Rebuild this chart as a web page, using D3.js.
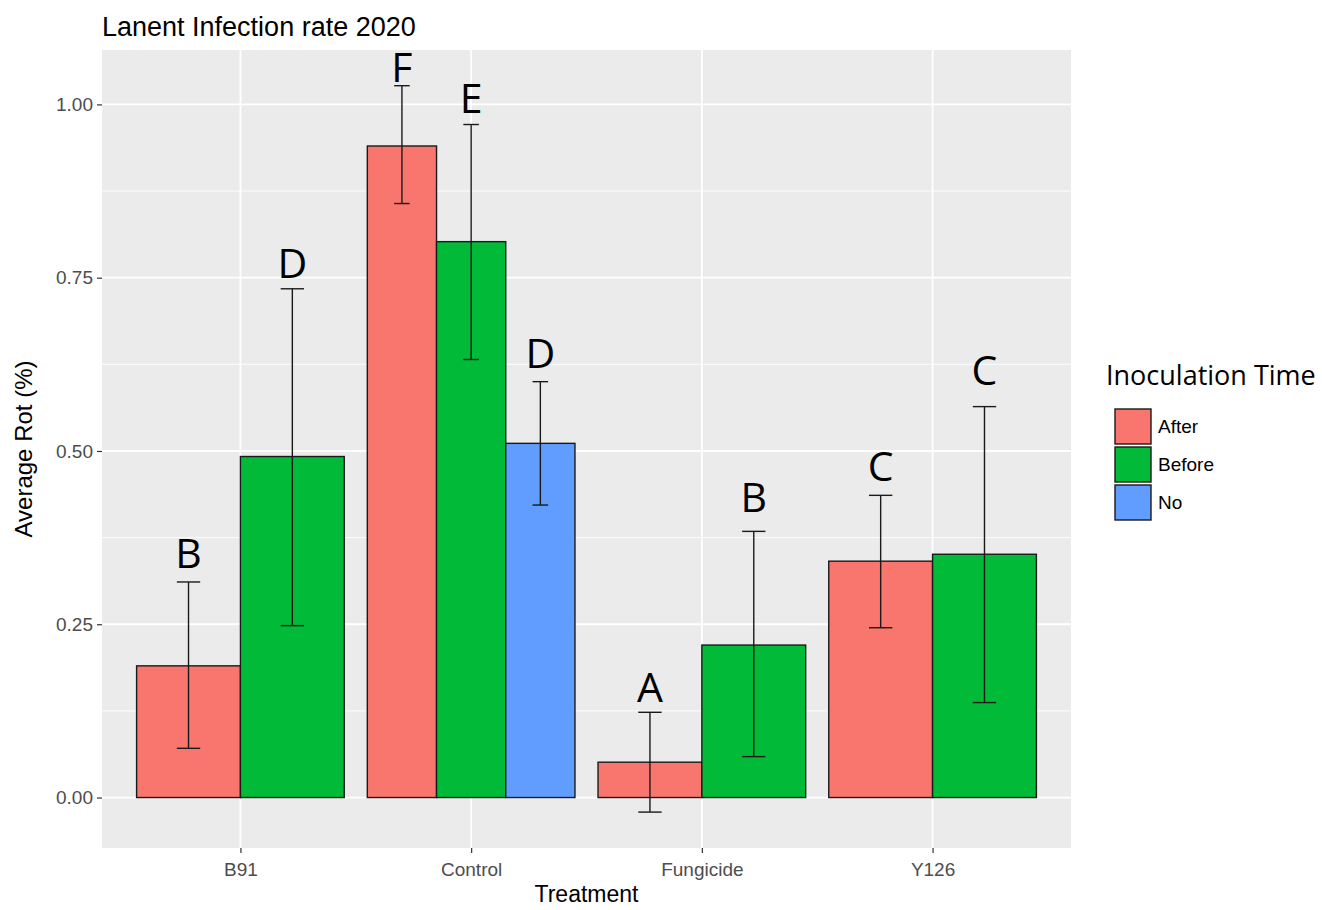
<!DOCTYPE html>
<html>
<head>
<meta charset="utf-8">
<script src="https://cdn.jsdelivr.net/npm/d3@7"></script>
<style>
  body { margin: 0; background: #fff; }
  svg { display: block; }
</style>
</head>
<body>
<svg id="chart" width="1322" height="910"></svg>
<script>
// data
const treatments = ["B91", "Control", "Fungicide", "Y126"];
const times = ["After", "Before", "No"];
const colors = ["#F8766D", "#00BA38", "#619CFF"];

// one row per bar: treatment, time, mean, lower, upper, letter, letter baseline
const barTreatment = ["B91", "B91", "Control", "Control", "Control", "Fungicide", "Fungicide", "Y126", "Y126"];
const barTime = ["After", "Before", "After", "Before", "No", "After", "Before", "After", "Before"];
const barMean = [0.190, 0.492, 0.940, 0.802, 0.511, 0.051, 0.220, 0.341, 0.351];
const barLower = [0.071, 0.248, 0.857, 0.632, 0.422, -0.021, 0.059, 0.245, 0.137];
const barUpper = [0.311, 0.734, 1.027, 0.971, 0.600, 0.123, 0.384, 0.436, 0.564];
const barLetter = ["B", "D", "F", "E", "D", "A", "B", "C", "C"];
const letterAt = [0.331, 0.749, 1.032, 0.988, 0.619, 0.138, 0.412, 0.456, 0.595];

const yTicks = [0, 0.25, 0.5, 0.75, 1.0];
const yMinor = [0.125, 0.375, 0.625, 0.875];

const rows = barMean.map((m, i) => ({
  treatment: barTreatment[i], time: barTime[i], mean: m,
  lo: barLower[i], hi: barUpper[i], letter: barLetter[i], ly: letterAt[i]
}));

const panel = { left: 102, right: 1071, top: 50, bottom: 848 };
const svg = d3.select("#chart");
const textFont = "'Liberation Sans', Arial, sans-serif";

const x = d3.scalePoint().domain(treatments)
  .range([panel.left, panel.right]).padding(0.6);
const y = d3.scaleLinear()
  .domain([-0.0728, 1.0785])
  .range([panel.bottom, panel.top]);
const color = d3.scaleOrdinal().domain(times).range(colors);

// panel background + grid
svg.append("rect")
  .attr("x", panel.left).attr("y", panel.top)
  .attr("width", panel.right - panel.left).attr("height", panel.bottom - panel.top)
  .attr("fill", "#EBEBEB");

svg.append("g").selectAll("line").data(yMinor).join("line")
  .attr("x1", panel.left).attr("x2", panel.right)
  .attr("y1", d => y(d)).attr("y2", d => y(d))
  .attr("stroke", "#fff").attr("stroke-width", 0.9);
svg.append("g").selectAll("line").data(yTicks).join("line")
  .attr("x1", panel.left).attr("x2", panel.right)
  .attr("y1", d => y(d)).attr("y2", d => y(d))
  .attr("stroke", "#fff").attr("stroke-width", 1.8);
svg.append("g").selectAll("line").data(treatments).join("line")
  .attr("x1", d => x(d)).attr("x2", d => x(d))
  .attr("y1", panel.top).attr("y2", panel.bottom)
  .attr("stroke", "#fff").attr("stroke-width", 1.8);

// dodged positions: each treatment splits 0.9 of a step between its own bars
const groupWidth = x.step() * 0.9;
const inner = {};
treatments.forEach(t => {
  const sub = rows.filter(r => r.treatment === t).map(r => r.time);
  inner[t] = d3.scaleBand().domain(sub)
    .range([x(t) - groupWidth / 2, x(t) + groupWidth / 2]);
});
const cx = d => inner[d.treatment](d.time) + inner[d.treatment].bandwidth() / 2;

svg.append("g").selectAll("rect").data(rows).join("rect")
  .attr("x", d => inner[d.treatment](d.time))
  .attr("width", d => inner[d.treatment].bandwidth())
  .attr("y", d => y(d.mean))
  .attr("height", d => y(0) - y(d.mean))
  .attr("fill", d => color(d.time))
  .attr("stroke", "#1a1a1a").attr("stroke-width", 1.4);

// error bars
const eb = svg.append("g").attr("stroke", "#1a1a1a").attr("stroke-width", 1.4);
rows.forEach(d => {
  const w = inner[d.treatment].bandwidth() * 0.225;
  const c = cx(d);
  eb.append("line").attr("x1", c).attr("x2", c).attr("y1", y(d.hi)).attr("y2", y(d.lo));
  eb.append("line").attr("x1", c - w / 2).attr("x2", c + w / 2).attr("y1", y(d.hi)).attr("y2", y(d.hi));
  eb.append("line").attr("x1", c - w / 2).attr("x2", c + w / 2).attr("y1", y(d.lo)).attr("y2", y(d.lo));
});

// significance letters
svg.append("g").selectAll("text").data(rows).join("text")
  .attr("x", d => cx(d)).attr("y", d => y(d.ly))
  .attr("text-anchor", "middle")
  .attr("font-family", "'Open Sans', sans-serif")
  .attr("font-size", 41).attr("fill", "#000")
  .text(d => d.letter);

// axes
const yAxis = svg.append("g")
  .attr("transform", `translate(${panel.left},0)`)
  .call(d3.axisLeft(y).tickValues(yTicks).tickFormat(d3.format(".2f")).tickSize(5).tickPadding(4));
const xAxis = svg.append("g")
  .attr("transform", `translate(0,${panel.bottom})`)
  .call(d3.axisBottom(x).tickSize(5).tickPadding(5));
[yAxis, xAxis].forEach(a => {
  a.select(".domain").remove();
  a.selectAll(".tick line").attr("stroke", "#333").attr("stroke-width", 1.2);
  a.selectAll(".tick text").attr("fill", "#4D4D4D")
    .attr("font-family", textFont).attr("font-size", 19);
});
xAxis.selectAll(".tick text").attr("dy", "0.95em");

// titles
svg.append("text")
  .attr("x", panel.left).attr("y", 36)
  .attr("font-family", textFont).attr("font-size", 27).attr("fill", "#000")
  .text("Lanent Infection rate 2020");
svg.append("text")
  .attr("x", (panel.left + panel.right) / 2).attr("y", 902)
  .attr("text-anchor", "middle")
  .attr("font-family", textFont).attr("font-size", 23).attr("fill", "#000")
  .text("Treatment");
svg.append("text")
  .attr("transform", `translate(32,${(panel.top + panel.bottom) / 2}) rotate(-90)`)
  .attr("text-anchor", "middle")
  .attr("font-family", textFont).attr("font-size", 24).attr("fill", "#000")
  .text("Average Rot (%)");

// legend
const legend = svg.append("g").attr("transform", "translate(1106,0)");
legend.append("text")
  .attr("x", 0).attr("y", 385)
  .attr("font-family", "'Open Sans', sans-serif")
  .attr("font-size", 27).attr("fill", "#000")
  .text("Inoculation Time");
const keys = legend.selectAll("g.key").data(times).join("g")
  .attr("class", "key")
  .attr("transform", (d, i) => `translate(9,${409 + i * 38})`);
keys.append("rect")
  .attr("width", 36).attr("height", 35)
  .attr("fill", d => color(d))
  .attr("stroke", "#1a1a1a").attr("stroke-width", 1.4);
keys.append("text")
  .attr("x", 43).attr("y", 24)
  .attr("font-family", textFont).attr("font-size", 19).attr("fill", "#000")
  .text(d => d);
</script>
</body>
</html>
